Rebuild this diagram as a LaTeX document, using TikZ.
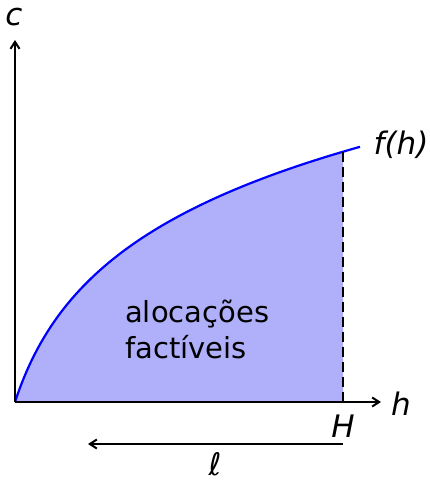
\documentclass[tikz,border=0pt]{standalone}
\usepackage{fontspec}
\setmainfont{DejaVu Sans}
\newfontfamily\obl{DejaVu Sans Oblique}
\usetikzlibrary{arrows.meta}
\definecolor{fillc}{HTML}{B0B0FA}
\tikzset{
  axis/.style={line width=2pt, -{Straight Barb[length=7pt,width=9pt]}},
  lbl/.style={font=\fontsize{31}{36}\selectfont\obl, inner sep=0pt},
  txt/.style={font=\fontsize{29}{36}\selectfont, inner sep=0pt, align=left, anchor=base west},
  curve/.style={blue, line width=2.2pt}
}
\begin{document}
\begin{tikzpicture}[x=1pt,y=-1pt]
\useasboundingbox (0,0) rectangle (430,481);
\coordinate (O) at (15,402);
\coordinate (Ytop) at (15,40);
\coordinate (Xend) at (381,402);
\coordinate (Hc) at (343,{402-107*ln(1+328/35)});
\coordinate (Hb) at (343,402);
\fill[fillc] (O) -- plot[domain=0:328, samples=150] ({15+\x},{402-107*ln(1+\x/35)}) -- (Hb) -- cycle;
\draw[curve] plot[domain=0:345, samples=180] ({15+\x},{402-107*ln(1+\x/35)});
\draw[line width=2pt, dash pattern=on 10pt off 5pt] (Hc) -- (Hb);
\draw[axis] (O) -- (Ytop);
\draw[axis] (O) -- (Xend);
\node[lbl] (c) at (14,17) {c};
\node[lbl] (h) at (401,404) {h};
\node[lbl] (fh) at (401,145) {f(h)};
\node[lbl] (H) at (343,426) {H};
\coordinate (Lr) at (343,444);
\coordinate (Ll) at (88,444);
\draw[axis] (Lr) -- (Ll);
\node[lbl] (ell) at (215,464) {ℓ};
\node[txt] (t) at (125,358) {alocações\\factíveis};
\end{tikzpicture}
\end{document}
